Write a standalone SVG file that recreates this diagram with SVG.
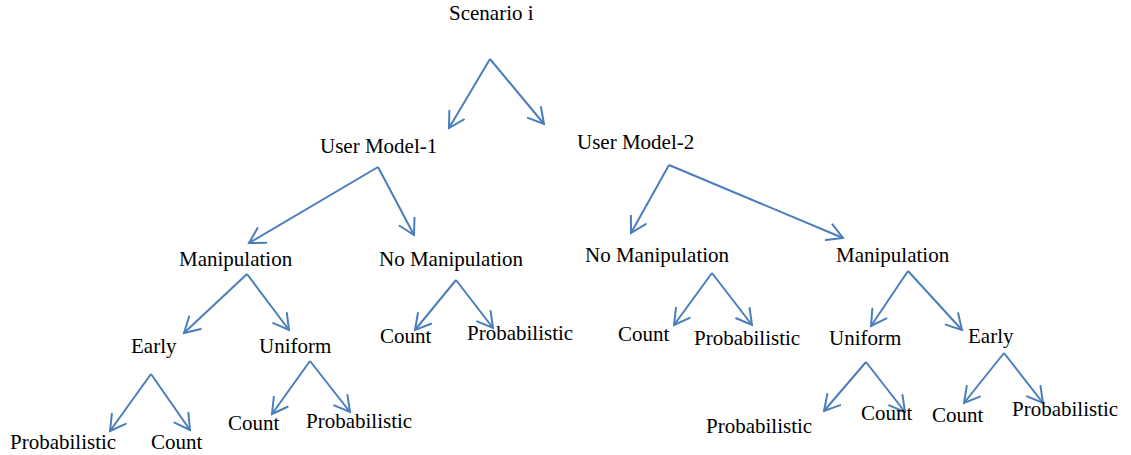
<svg xmlns="http://www.w3.org/2000/svg" width="1131" height="455" viewBox="0 0 1131 455">
<style>
text{font-family:"Liberation Serif","Times New Roman",serif;font-size:21px;fill:#000}
.c line{stroke:#4A7EBB;stroke-width:2;fill:none;marker-end:url(#ah)}
</style>
<defs>
<marker id="ah" viewBox="0 0 20 20" refX="18" refY="10" markerWidth="20" markerHeight="20" markerUnits="userSpaceOnUse" orient="auto">
<path d="M3,1.5 L18,10 L3,18.5" fill="none" stroke="#4A7EBB" stroke-width="2" stroke-linecap="round" stroke-linejoin="miter"/>
</marker>
</defs>
<rect width="1131" height="455" fill="#fff"/>
<g id="connectors" class="c">
<line x1="490" y1="59" x2="449" y2="128"/>
<line x1="490" y1="59" x2="544" y2="124"/>
<line x1="378" y1="167" x2="249" y2="243"/>
<line x1="378" y1="167" x2="414" y2="235"/>
<line x1="669" y1="165" x2="631" y2="233"/>
<line x1="669" y1="165" x2="843" y2="238"/>
<line x1="247" y1="274" x2="184" y2="333"/>
<line x1="247" y1="274" x2="289" y2="330"/>
<line x1="456" y1="280" x2="415" y2="330"/>
<line x1="456" y1="280" x2="493" y2="328"/>
<line x1="712" y1="273" x2="674" y2="325"/>
<line x1="712" y1="273" x2="752" y2="325"/>
<line x1="908" y1="271" x2="871" y2="326"/>
<line x1="908" y1="271" x2="962" y2="330"/>
<line x1="151" y1="374" x2="110" y2="431"/>
<line x1="151" y1="374" x2="190" y2="430"/>
<line x1="310" y1="361" x2="272" y2="414"/>
<line x1="310" y1="361" x2="350" y2="412"/>
<line x1="866" y1="362" x2="824" y2="411"/>
<line x1="866" y1="362" x2="905" y2="412"/>
<line x1="1004" y1="353" x2="964" y2="403"/>
<line x1="1004" y1="353" x2="1043" y2="403"/>
</g>
<g id="scenario"><text x="449" y="20">Scenario i</text></g>
<g id="um1"><text x="320" y="153">User Model-1</text></g>
<g id="um2"><text x="577" y="149">User Model-2</text></g>
<g id="m1"><text x="179" y="266">Manipulation</text></g>
<g id="nm1"><text x="379" y="266">No Manipulation</text></g>
<g id="nm2"><text x="585" y="262">No Manipulation</text></g>
<g id="m2"><text x="836" y="262">Manipulation</text></g>
<g id="m1-early"><text x="131" y="353">Early</text></g>
<g id="m1-uniform"><text x="259" y="353">Uniform</text></g>
<g id="nm1-count"><text x="380" y="343">Count</text></g>
<g id="nm1-prob"><text x="467" y="340">Probabilistic</text></g>
<g id="nm2-count"><text x="618" y="341">Count</text></g>
<g id="nm2-prob"><text x="694" y="345">Probabilistic</text></g>
<g id="m2-uniform"><text x="829" y="345">Uniform</text></g>
<g id="m2-early"><text x="968" y="343">Early</text></g>
<g id="m1-early-prob"><text x="10" y="449">Probabilistic</text></g>
<g id="m1-early-count"><text x="151" y="449">Count</text></g>
<g id="m1-uniform-count"><text x="228" y="430">Count</text></g>
<g id="m1-uniform-prob"><text x="306" y="428">Probabilistic</text></g>
<g id="m2-uniform-prob"><text x="706" y="433">Probabilistic</text></g>
<g id="m2-uniform-count"><text x="861" y="420">Count</text></g>
<g id="m2-early-count"><text x="932" y="422">Count</text></g>
<g id="m2-early-prob"><text x="1012" y="416">Probabilistic</text></g>
</svg>
